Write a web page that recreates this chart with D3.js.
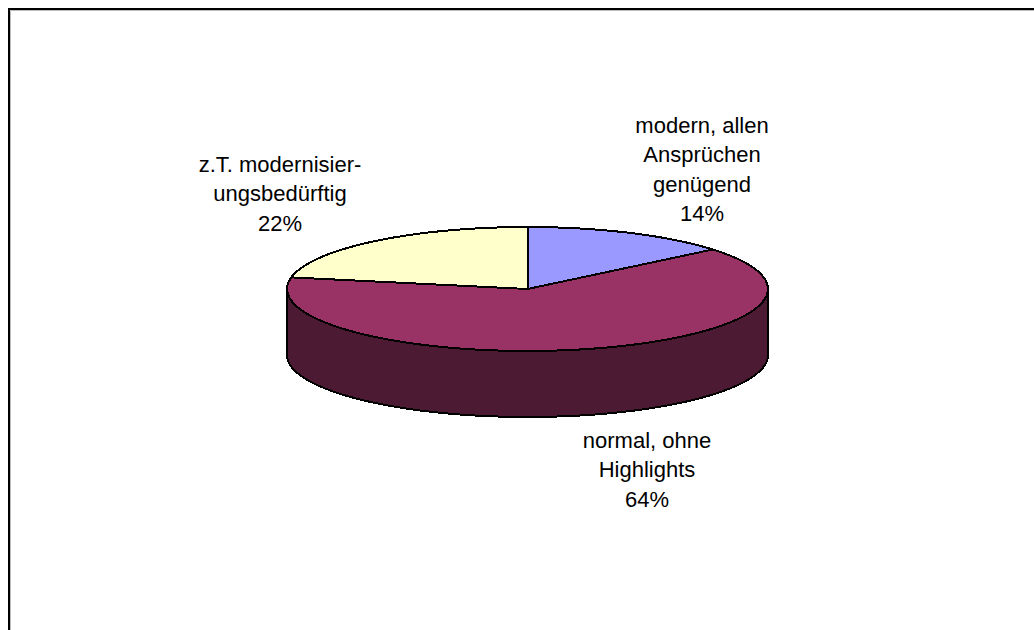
<!DOCTYPE html>
<html>
<head>
<meta charset="utf-8">
<script src="https://cdn.jsdelivr.net/npm/d3@7"></script>
<style>
  html, body { margin: 0; padding: 0; background: #fff; }
  svg { display: block; }
  text { font-family: 'Liberation Sans', Arial, sans-serif; font-size: 22px; fill: #000; }
</style>
</head>
<body>
<div id="chart"></div>
<script>
const categories = ['modern, allen Ansprüchen genügend', 'normal, ohne Highlights', 'z.T. modernisierungsbedürftig']
const shares = [14, 64, 22]
const percentLabels = ['14%', '64%', '22%']
const labelLines = [
  ['modern, allen', 'Ansprüchen', 'genügend'],
  ['normal, ohne', 'Highlights'],
  ['z.T. modernisier-', 'ungsbedürftig']
]
const topColors = ['#9999ff', '#993366', '#ffffcc']
const wallColor = '#4d1a33'

const width = 1034
const height = 630

const svg = d3
  .select('#chart')
  .append('svg')
  .attr('width', width)
  .attr('height', height)

// frame is cut off on the right and bottom
svg
  .append('path')
  .attr('d', `M10.5,${height}V10.5H${width}`)
  .attr('fill', 'none')
  .attr('stroke', '#bbb')
  .attr('stroke-width', 1)
svg
  .append('path')
  .attr('d', `M9,${height}V9H${width}`)
  .attr('fill', 'none')
  .attr('stroke', '#000')
  .attr('stroke-width', 2)

// unit circle -> flattened ellipse on the page
const xScale = d3.scaleLinear().domain([-1, 1]).range([287, 768])
const yScale = d3.scaleLinear().domain([-1, 1]).range([227, 351])
const depth = 66

const pie = d3.pie().sort(null)
const slices = pie(shares)

const line = d3
  .line()
  .x(d => xScale(d[0]))
  .y(d => yScale(d[1]) + d[2])

function rimPoints(a0, a1, drop) {
  return d3
    .range(0, 61)
    .map(i => a0 + ((a1 - a0) * i) / 60)
    .map(a => [Math.sin(a), -Math.cos(a), drop])
}

const pieGroup = svg.append('g').attr('shape-rendering', 'crispEdges')

// the side wall only shows along the front half
const front = rimPoints(Math.PI / 2, (Math.PI * 3) / 2, 0)
const frontLow = rimPoints((Math.PI * 3) / 2, Math.PI / 2, depth)

pieGroup
  .append('path')
  .attr('d', line(front.concat(frontLow)) + 'Z')
  .attr('fill', wallColor)
  .attr('stroke', '#000')
  .attr('stroke-width', 2)

pieGroup
  .selectAll('.slice')
  .data(slices)
  .enter()
  .append('path')
  .attr('class', 'slice')
  .attr('d', d => line([[0, 0, 0]].concat(rimPoints(d.startAngle, d.endAngle, 0))) + 'Z')
  .attr('fill', (d, i) => topColors[i])
  .attr('stroke', '#000')
  .attr('stroke-width', 2)
  .attr('stroke-linejoin', 'round')

// label anchors: centre x, first baseline, line step
const labelAnchors = [
  { x: 702, y: 133, step: 29.4 },
  { x: 647, y: 447.7, step: 29.6 },
  { x: 280, y: 171.5, step: 29.7 }
]

const labels = svg
  .selectAll('.label')
  .data(categories)
  .enter()
  .append('text')
  .attr('class', 'label')
  .attr('text-anchor', 'middle')
  .attr('transform', (d, i) => `translate(${labelAnchors[i].x},${labelAnchors[i].y})`)

labels
  .selectAll('tspan')
  .data((d, i) => labelLines[i].concat(percentLabels[i]).map(t => ({ t, step: labelAnchors[i].step })))
  .enter()
  .append('tspan')
  .attr('x', 0)
  .attr('y', (d, i) => i * d.step)
  .text(d => d.t)
</script>
</body>
</html>
